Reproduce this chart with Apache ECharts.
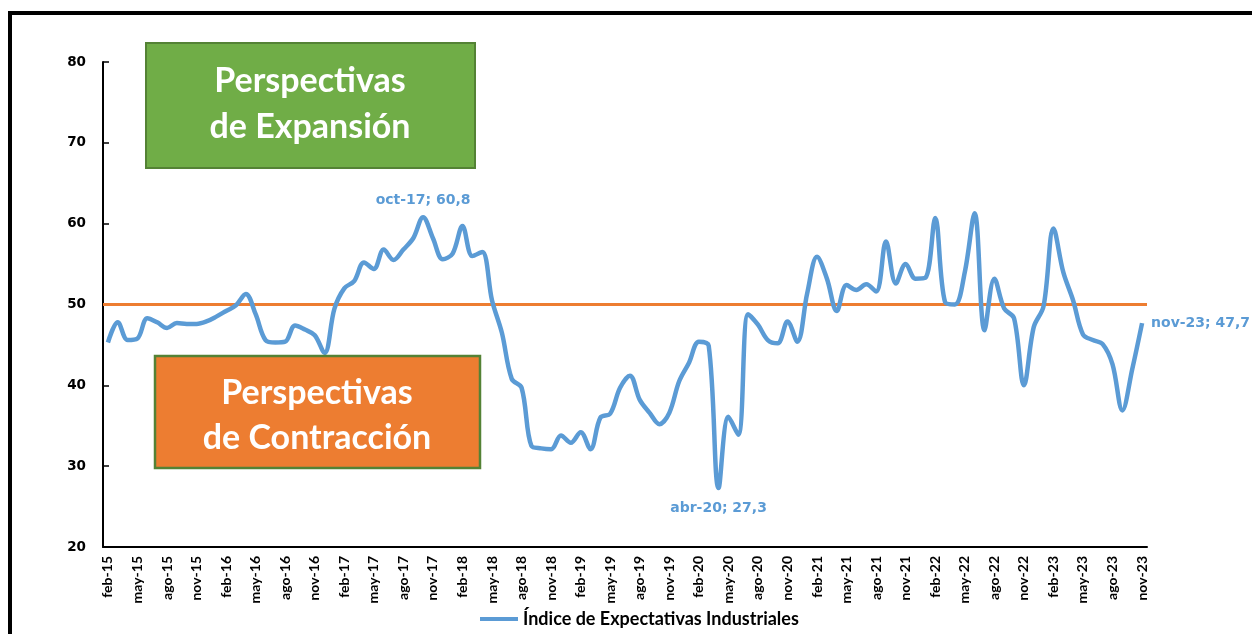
<!DOCTYPE html>
<html>
<head>
<meta charset="utf-8">
<script src="https://cdn.jsdelivr.net/npm/echarts@6/dist/echarts.min.js"></script>
<style>html,body{margin:0;padding:0;background:#fff;}#c{width:1252px;height:634px;}</style>
</head>
<body>
<div id="c"></div>
<script>
// Month abbreviations and years for the category labels
const monthNames = ['ene','feb','mar','abr','may','jun','jul','ago','sep','oct','nov','dic'];
const startYear = 2015, startMonth = 1, monthCount = 106; // feb-15 .. nov-23
const categories = [];
for (let k = 0; k < monthCount; k++) {
  const m = (startMonth + k) % 12;
  const y = startYear + Math.floor((startMonth + k) / 12);
  categories.push(monthNames[m] + '-' + String(y).slice(2));
}

// Índice de Expectativas Industriales
const indexValues = [
  45.3, 47.8, 45.6, 45.8, 48.3, 47.8, 47.1, 47.7, 47.6, 47.6, 47.9,
  48.5, 49.2, 49.9, 51.3, 48.8, 45.6, 45.3, 45.4, 47.4, 46.9, 46.2, 44.0,
  49.5, 52.0, 52.9, 55.2, 54.4, 56.8, 55.5, 56.8, 58.2, 60.8, 58.2, 55.6,
  56.3, 59.7, 56.0, 56.5, 50.5, 46.5, 40.8, 39.7, 32.5, 32.2, 32.1, 33.8,
  32.9, 34.2, 32.1, 36.0, 36.5, 39.7, 41.2, 38.2, 36.6, 35.2, 36.6, 40.5,
  42.8, 45.4, 44.9, 27.3, 36.1, 33.9, 48.8, 47.5, 45.6, 45.2, 47.9, 45.4,
  51.4, 55.9, 53.2, 49.2, 52.4, 51.8, 52.5, 51.6, 57.8, 52.6, 55.0, 53.2,
  53.3, 60.7, 50.3, 50.0, 54.0, 61.3, 46.8, 53.2, 49.5, 48.3, 40.0, 47.2,
  49.8, 59.4, 54.0, 50.5, 46.3, 45.6, 45.1, 42.6, 36.9, 42.0, 47.7
];
const threshold = 50;
const yTicks = { min: 20, max: 80, interval: 10 };
const seriesName = 'Índice de Expectativas Industriales';
// annotated points: category label and label placement
const annotations = [
  { cat: 'oct-17', position: 'top', distance: 10 },
  { cat: 'abr-20', position: 'bottom', distance: 13 },
  { cat: 'nov-23', position: 'right', distance: 9 }
];

const blue = '#5B9BD5';
const seriesData = indexValues.map((v, i) => {
  const a = annotations.find(a => a.cat === categories[i]);
  if (!a) return v;
  return {
    value: v,
    label: {
      show: true, position: a.position, distance: a.distance,
      formatter: () => categories[i] + '; ' + String(v).replace('.', ','),
      color: blue, fontFamily: 'DejaVu Sans', fontWeight: 'bold', fontSize: 14
    }
  };
});

const chart = echarts.init(document.getElementById('c'));
chart.setOption({
  animation: false,
  backgroundColor: '#ffffff',
  grid: { left: 103, right: 105, top: 62, bottom: 87, containLabel: false },
  legend: {
    left: 475, top: 605, icon: 'rect',
    itemWidth: 38, itemHeight: 4, itemGap: 6,
    textStyle: { fontFamily: 'Lato', fontWeight: 'bold', fontSize: 18, color: '#000' },
    data: [seriesName]
  },
  xAxis: {
    type: 'category', data: categories, boundaryGap: true,
    axisLine: { lineStyle: { color: '#000', width: 2 } },
    axisTick: { inside: true, length: 5, interval: 2, lineStyle: { color: '#000', width: 1.5 } },
    axisLabel: { interval: 2, rotate: 90, margin: 9, fontFamily: 'Lato', fontWeight: 'bold', fontSize: 14, color: '#000' },
    splitLine: { show: false }
  },
  yAxis: {
    type: 'value', min: yTicks.min, max: yTicks.max, interval: yTicks.interval,
    axisLine: { show: true, lineStyle: { color: '#000', width: 2 } },
    axisTick: { show: true, inside: true, length: 6, lineStyle: { color: '#000', width: 1.5 } },
    axisLabel: { margin: 17, fontFamily: 'DejaVu Sans', fontWeight: 'bold', fontSize: 13.5, color: '#000' },
    splitLine: { show: false }
  },
  series: [{
    name: seriesName, type: 'line', data: seriesData,
    smooth: 0.35, symbol: 'circle', symbolSize: 0, showSymbol: true,
    lineStyle: { color: blue, width: 4.5 }, itemStyle: { color: blue },
    z: 3,
    markLine: {
      silent: true, symbol: 'none', label: { show: false },
      lineStyle: { color: '#ED7D31', width: 3, type: 'solid' },
      data: [{ yAxis: threshold }], z: 2
    }
  }],
  graphic: [
    { type: 'rect', shape: { x: 10, y: 13, width: 1400, height: 800 },
      style: { fill: 'none', stroke: '#000', lineWidth: 4 }, z: 100 },
    { type: 'rect', shape: { x: 146, y: 43, width: 329, height: 125 },
      style: { fill: '#70AD47', stroke: '#548235', lineWidth: 2 }, z: 50 },
    { type: 'text', x: 310, y: 81, z: 51,
      style: { text: 'Perspectivas', fill: '#fff', font: 'bold 34px Lato', align: 'center', verticalAlign: 'middle' } },
    { type: 'text', x: 310, y: 127, z: 51,
      style: { text: 'de Expansión', fill: '#fff', font: 'bold 34px Lato', align: 'center', verticalAlign: 'middle' } },
    { type: 'rect', shape: { x: 155, y: 356, width: 325, height: 112 },
      style: { fill: '#ED7D31', stroke: '#548235', lineWidth: 2.5 }, z: 50 },
    { type: 'text', x: 317, y: 393, z: 51,
      style: { text: 'Perspectivas', fill: '#fff', font: 'bold 34px Lato', align: 'center', verticalAlign: 'middle' } },
    { type: 'text', x: 317, y: 438, z: 51,
      style: { text: 'de Contracción', fill: '#fff', font: 'bold 34px Lato', align: 'center', verticalAlign: 'middle' } }
  ]
});
</script>
</body>
</html>
